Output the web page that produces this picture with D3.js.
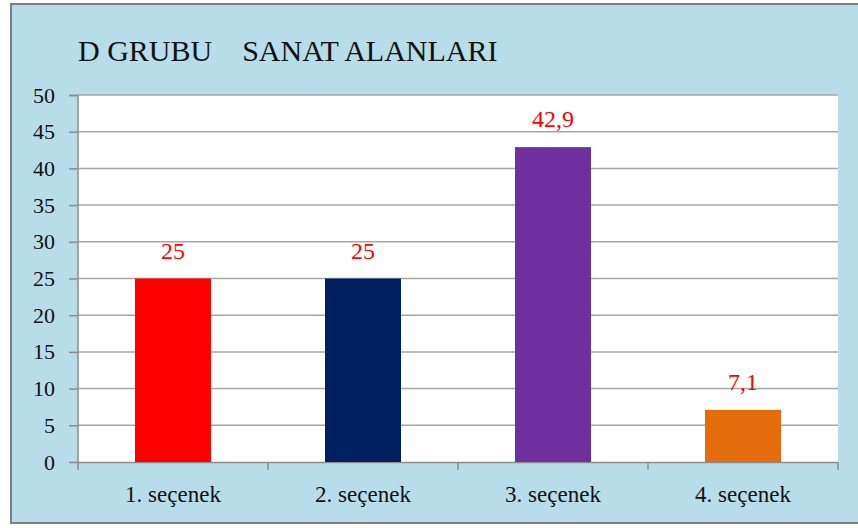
<!DOCTYPE html>
<html>
<head>
<meta charset="utf-8">
<script src="https://cdn.jsdelivr.net/npm/d3@7"></script>
<style>
  body { margin: 0; background: #fff; }
</style>
</head>
<body>
<div id="chart"></div>
<script>
// data
var categories = ["1. seçenek", "2. seçenek", "3. seçenek", "4. seçenek"];
var values = [25, 25, 42.9, 7.1];
var barColors = ["#FF0000", "#002060", "#7030A0", "#E46C0A"];
var yTicks = [0, 5, 10, 15, 20, 25, 30, 35, 40, 45, 50];
var title = "D GRUBU    SANAT ALANLARI";

var serif = "'Liberation Serif', 'Times New Roman', Tinos, 'DejaVu Serif', serif";

var svgWidth = 858;
var svgHeight = 528;

var margin = { top: 95, right: 20, bottom: 66, left: 78 };
var width = 838 - margin.left;
var height = 462 - margin.top;

var svg = d3.select("#chart")
            .append("svg")
            .attr("width", svgWidth)
            .attr("height", svgHeight)
            .style("font-family", serif);

// panel background + border
svg.append("rect")
   .attr("x", 11).attr("y", 4)
   .attr("width", 870).attr("height", 519)
   .attr("fill", "#B7DDE8")
   .attr("stroke", "#7F7F7F")
   .attr("stroke-width", 2);

svg.append("text")
   .attr("x", 78).attr("y", 61)
   .style("font-family", serif)
   .style("font-size", "30px")
   .style("white-space", "pre")
   .attr("fill", "#111")
   .text(title);

var chartGroup = svg.append("g")
                    .attr("transform", `translate(${margin.left},${margin.top})`);

chartGroup.append("rect")
          .attr("width", width).attr("height", height)
          .attr("fill", "#fff");

var xScale = d3.scaleBand().domain(categories).range([0, width]).padding(0);
var yScale = d3.scaleLinear().domain([0, 50]).range([height, 0]);

// gridlines
chartGroup.selectAll(".grid")
          .data(yTicks.slice(1))
          .enter()
          .append("line")
          .attr("x1", 0).attr("x2", width)
          .attr("y1", d => yScale(d)).attr("y2", d => yScale(d))
          .attr("stroke", "#A6A6A6")
          .attr("stroke-width", 1.5);

// left axis
var leftAxis = d3.axisLeft(yScale).tickValues(yTicks).tickSize(9).tickPadding(14);
var gy = chartGroup.append("g").call(leftAxis);
gy.attr("font-family", null);
gy.selectAll("path, line").attr("stroke", "#8C8C8C").attr("stroke-width", 1.5);
gy.select(".domain").attr("d", `M-9,0.5H0V${height}`);
gy.selectAll("text")
  .style("font-family", serif).style("font-size", "22px")
  .attr("fill", "#111");

// bottom axis
var bottomAxis = d3.axisBottom(xScale).tickSize(0).tickPadding(24);
var gx = chartGroup.append("g")
                   .attr("transform", `translate(0,${height})`)
                   .call(bottomAxis);
gx.attr("font-family", null);
gx.select(".domain").attr("stroke", "#8C8C8C").attr("stroke-width", 1.5);
gx.selectAll("text")
  .style("font-family", serif).style("font-size", "23px")
  .attr("fill", "#111");

// category separator ticks
var bounds = d3.range(categories.length + 1).map(i => i * xScale.step());
chartGroup.selectAll(".xt")
          .data(bounds)
          .enter()
          .append("line")
          .attr("x1", d => d).attr("x2", d => d)
          .attr("y1", height).attr("y2", height + 8)
          .attr("stroke", "#8C8C8C")
          .attr("stroke-width", 1.5);

// bars
var barW = xScale.bandwidth() * 0.4;
chartGroup.selectAll(".bar")
          .data(values)
          .enter()
          .append("rect")
          .attr("x", (d, i) => xScale(categories[i]) + (xScale.bandwidth() - barW) / 2)
          .attr("y", d => yScale(d))
          .attr("width", barW)
          .attr("height", d => height - yScale(d))
          .attr("fill", (d, i) => barColors[i]);

// value labels
var trLocale = d3.formatLocale({ decimal: ",", thousands: ".", grouping: [3], currency: ["", ""] });
var fmt = trLocale.format("~g");
chartGroup.selectAll(".lbl")
          .data(values)
          .enter()
          .append("text")
          .attr("x", (d, i) => xScale(categories[i]) + xScale.bandwidth() / 2)
          .attr("y", d => yScale(d) - 20)
          .attr("text-anchor", "middle")
          .style("font-family", serif)
          .style("font-size", "24px")
          .attr("fill", "#FF0000")
          .text(d => fmt(d));
</script>
</body>
</html>
